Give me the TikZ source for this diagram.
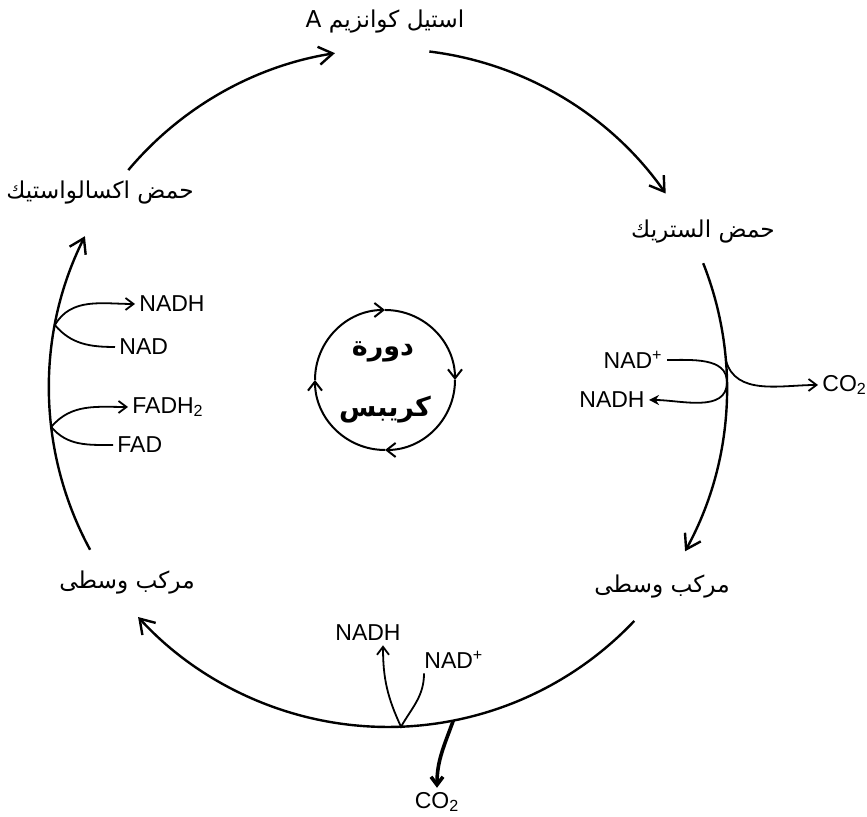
\documentclass[tikz,border=0pt]{standalone}
\usepackage{fontspec}
\setmainfont{Liberation Sans}
\newfontfamily\arabicfont[Script=Arabic]{DejaVu Sans}
\TeXXeTstate=1
\usetikzlibrary{arrows.meta}
\newcommand{\artext}[1]{{\arabicfont\beginR #1\endR}}

\begin{document}
\begin{tikzpicture}[x=0.5pt, y=0.5pt,
        declare function={
            BigR=339;
            SmallR=70;
        },
        >={Straight Barb[length=7pt,width=9pt]},
        cycle/.style={line width=1.2pt, ->},
        side/.style={line width=0.9pt, -{Straight Barb[length=4pt,width=6pt]}},
        arlabel/.style={font=\fontsize{11.6}{14}\selectfont, inner sep=1pt},
        chem/.style={font=\fontsize{11.5}{13}\selectfont, inner sep=2pt}
    ]
        \useasboundingbox (0,0) rectangle (867,817);
        \coordinate (c) at (388,429);

        % compounds of the cycle
        \node[arlabel] (acetyl) at (385,795) {\artext{استيل كوانزيم A}};
        \node[arlabel] (citric) at (703,585) {\artext{حمض الستريك}};
        \node[arlabel] (midR) at (662,230) {\artext{مركب وسطى}};
        \node[arlabel] (midL) at (127,234) {\artext{مركب وسطى}};
        \node[arlabel] (oxal) at (100,624) {\artext{حمض اكسالواستيك}};

        % big cycle
        \coordinate (oxal-a) at ([shift={(140:BigR)}]c);
        \coordinate (acetyl-a) at ([shift={(83:BigR)}]c);
        \coordinate (citric-a) at ([shift={(21.6:BigR)}]c);
        \coordinate (midR-a) at ([shift={(-43.4:BigR)}]c);
        \coordinate (midL-a) at ([shift={(208.5:BigR)}]c);
        \draw[cycle] (oxal-a) arc[start angle=140, end angle=99, radius=BigR];
        \draw[cycle] (acetyl-a) arc[start angle=83, end angle=35, radius=BigR];
        \draw[cycle] (citric-a) arc[start angle=21.6, end angle=-28.8, radius=BigR];
        \draw[cycle] (midR-a) arc[start angle=-43.4, end angle=-137.5, radius=BigR];
        \draw[cycle] (midL-a) arc[start angle=208.5, end angle=153.4, radius=BigR];

        % side products
        \node[chem, anchor=east] (nadpR) at (667,457) {NAD\textsuperscript{+}};
        \node[chem, anchor=east] (nadhR) at (649,417) {NADH};
        \node[chem, anchor=west] (co2R) at (818,432) {CO\textsubscript{2}};
        \node[chem] (nadhB) at (368,184) {NADH};
        \node[chem, anchor=west] (nadpB) at (420,157) {NAD\textsuperscript{+}};
        \node[chem] (co2B) at (437,15) {CO\textsubscript{2}};
        \node[chem, anchor=west] (fadhL) at (128,410) {FADH\textsubscript{2}};
        \node[chem, anchor=west] (fadL) at (113,372) {FAD};
        \node[chem, anchor=west] (nadhL) at (135,513) {NADH};
        \node[chem, anchor=west] (nadL) at (115,470) {NAD};

        \coordinate (kR) at ([shift={(1:BigR)}]c);
        \coordinate (kC) at ([shift={(4.7:BigR)}]c);
        \coordinate (kB) at ([shift={(-87.8:BigR)}]c);
        \coordinate (kD) at ([shift={(-78.9:BigR)}]c);
        \coordinate (kF) at ([shift={(186.6:BigR)}]c);
        \coordinate (kN) at ([shift={(169.3:BigR)}]c);

        \draw[side, -{Stealth[length=5pt,width=5pt]}] (nadpR.east) to[out=0, in=90] (kR) to[out=-90, in=0] (nadhR.east);
        \draw[side] (kC) to[out=-75, in=180] (co2R.west);
        \draw[side] ([xshift=2pt]nadpB.south west) to[out=-90, in=60] (kB) to[out=115, in=-90] ([xshift=7.5pt]nadhB.south);
        \draw[side, line width=1.8pt] (kD) to[out=-110, in=90] (co2B.north);
        \draw[side] (fadL.west) to[out=180, in=-50] (kF) to[out=50, in=180] (fadhL.west);
        \draw[side] (nadL.west) to[out=180, in=-50] (kN) to[out=60, in=180] (nadhL.west);

        % small cycle in the middle
        \node[font=\fontsize{13.5}{16}\selectfont\bfseries] (dawra) at (383,465) {\artext{دورة}};
        \node[font=\fontsize{13.5}{16}\selectfont\bfseries] (krebs) at (385,407) {\artext{كريبس}};
        \coordinate (k) at (385,437);
        \foreach \a in {180,90,0,-90}
            \draw[line width=1pt, -{Straight Barb[length=4.5pt,width=7pt]}] ([shift={(\a:SmallR)}]k) arc[start angle=\a, end angle=\a-90, radius=SmallR];
    \end{tikzpicture}
\end{document}
